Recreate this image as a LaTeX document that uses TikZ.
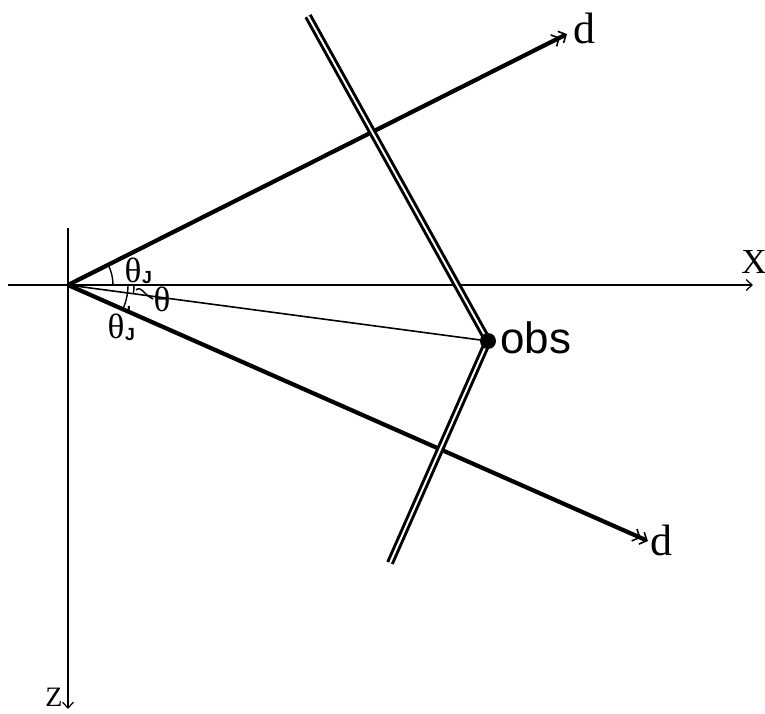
\documentclass[tikz,border=0pt]{standalone}
\usepackage{fontspec}
\setmainfont{Liberation Serif}
\newfontfamily\obsfont{Liberation Sans}
\usetikzlibrary{arrows.meta,calc}

\begin{document}
\begin{tikzpicture}[x=0.02cm,y=-0.02cm,every node/.style={inner sep=0pt},axis/.style={line width=0.7pt,-{Straight Barb[length=1.2mm,width=2.2mm]}},ray/.style={line width=2.4pt,-{Straight Barb[length=1.2mm,width=2.6mm,line width=0.9pt] Straight Barb[length=1.2mm,width=2.6mm,line width=0.9pt]}},wall/.style={line width=1.7pt,double=white,double distance=1.1pt,line join=round},arcline/.style={line width=0.8pt},lab/.style={font=\fontsize{20}{20}\selectfont},sub/.style={font=\obsfont\bfseries\fontsize{10}{10}\selectfont}]
\useasboundingbox (0,0) rectangle (765,714);

% axes
\coordinate (O) at (68,285); \coordinate (xl) at (8,285); \coordinate (xr) at (753,285); \coordinate (zt) at (68,228); \coordinate (zb) at (68,709);
\draw[axis] (xl) -- (xr); \draw[axis] (zt) -- (zb);
\node[font=\fontsize{20}{20}\selectfont] (xlab) at (754,262) {X}; \node[font=\fontsize{16}{16}\selectfont] (zlab) at (54,697) {Z};

% rays and wall
\coordinate (dt) at (567,34); \coordinate (db) at (648,541); \coordinate (P) at (488,341); \coordinate (wt) at (308,16); \coordinate (wb) at (390,563);
\draw[ray] (O) -- (dt); \draw[ray] (O) -- (db);
\node[font=\fontsize{25}{25}\selectfont] (dtlab) at (584,28) {d}; \node[font=\fontsize{25}{25}\selectfont] (dblab) at (661,540) {d};
\draw[wall] (wt) -- (P) -- (wb);
\draw[line width=0.9pt] (O) -- (P);
\node[circle,fill,minimum size=0.32cm] (obs) at (P) {};
\node[font=\obsfont\fontsize{25}{25}\selectfont,anchor=west] (obslab) at (500,338) {obs};

% angles
\draw[arcline] ($(O)+(45,0)$) arc[start angle=0,end angle=-26.7,radius=45];
\draw[arcline] ($(O)+(60,0)$) arc[start angle=0,end angle=23.8,radius=60];
\draw[arcline] ($(O)+(66,0)$) arc[start angle=0,end angle=7.6,radius=66];
\node[lab] (thJ) at (133,270) {θ}; \node[sub] (thJs) at (147,278) {J};
\node[lab] (th) at (162,299) {θ};
\node[lab] (thJp) at (116,326) {θ}; \node[sub] (thJps) at (130,335) {J}; \node[sub] (thJpp) at (129,312) {'};
\coordinate (thfoot) at (136,290);
\draw[arcline] (thfoot) .. controls (141,285) and (145,296) .. (th.west);

\end{tikzpicture}
\end{document}
